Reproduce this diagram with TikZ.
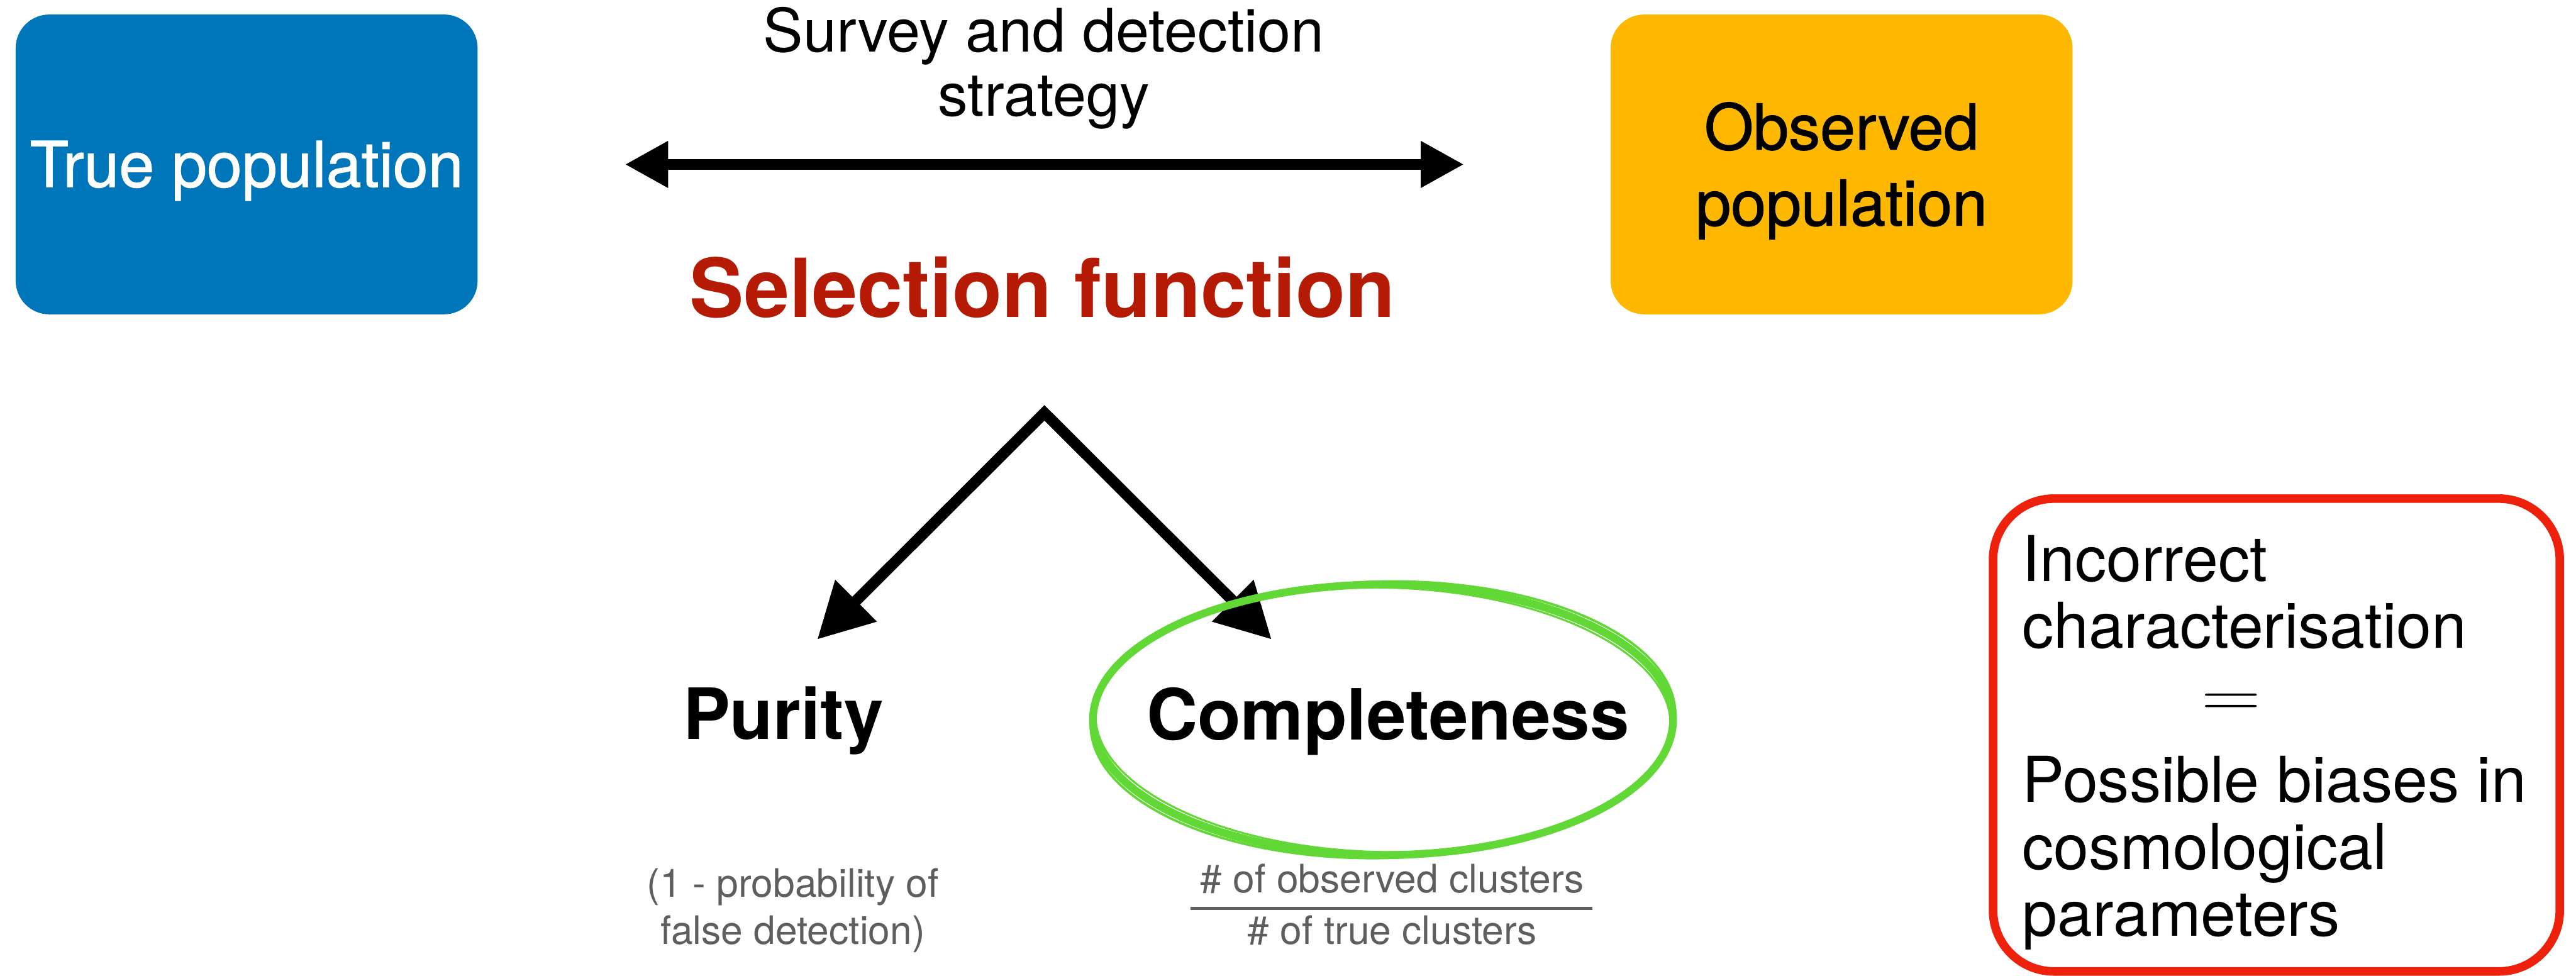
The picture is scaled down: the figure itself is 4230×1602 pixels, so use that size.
\documentclass[tikz,border=0pt]{standalone}
\usepackage{fontspec}
\setmainfont{TeX Gyre Heros}
\newfontface\boxface{TeX Gyre Heros}[FakeBold=1.2]
\usepackage{tikz}
\usetikzlibrary {arrows.meta,
                 positioning,
                 shapes.geometric}
\definecolor{truepopblue}{HTML}{0076BA}
\definecolor{obspopyellow}{HTML}{FEB800}
\definecolor{selred}{HTML}{B41A04}
\definecolor{biasred}{HTML}{EE220C}
\definecolor{brushgreen}{HTML}{61D836}
\definecolor{notegrey}{HTML}{5E5E5E}
\tikzset{
        popbox/.style={rectangle, rounded corners=5.5mm, minimum width=7.58cm,
                       minimum height=4.92cm, inner sep=0pt, align=center,
                       font=\boxface\fontsize{29.5}{35.5}\selectfont},
        plain/.style={inner sep=0pt, font=\fontsize{29.5}{31.3}\selectfont},
        heading/.style={inner sep=0pt, font=\bfseries\fontsize{33}{36}\selectfont},
        note/.style={inner sep=0pt, align=center, text=notegrey,
                     font=\fontsize{18.3}{22}\selectfont},
        strategyarrow/.style={{Triangle[length=7.1mm, width=7.2mm]}-{Triangle[length=7.1mm, width=7.2mm]},
                              line width=1.8mm},
        splitarrow/.style={{Triangle[length=9mm, width=9.2mm]}-{Triangle[length=9mm, width=9.2mm]},
                           line width=1.8mm, line join=miter},
        brush/.style={draw=brushgreen, line cap=round},
 }

\begin{document}
\begin{tikzpicture}[x=0.01cm, y=-0.01cm]
    \fill[white] (0,0) rectangle (4230,1602);
    \useasboundingbox (0,0) rectangle (4230,1602);

    \node[popbox, fill=truepopblue, text=white, text height=21pt, text depth=0pt] (truepop) at (405,270) {True population};
    \node[popbox, fill=obspopyellow] (obspop) at (3024,270) {\rule{0pt}{28pt}Observed\\population};

    \node[plain, align=center, font=\fontsize{28}{30}\selectfont] (survey) at (1714,112) {Survey and detection\\strategy};
    \draw[strategyarrow, shorten <=2.41cm, shorten >=2.4cm] (truepop) -- (obspop);

    \node[inner sep=0pt, anchor=base, text=selred, font=\bfseries\fontsize{38}{40}\selectfont] (selfunc) at (1712,521) {Selection function};

    \coordinate (split) at (1715,678);
    \coordinate (puritytip) at (1342,1050);
    \coordinate (completetip) at (2088,1050);
    \draw[splitarrow] (puritytip) -- (split) -- (completetip);

    \node[heading, anchor=base] (purity) at (1286,1214) {Purity};
    \node[heading, anchor=base] (complete) at (2279,1215) {Completeness};

    % hand drawn ring
    \draw[brush, line width=3.6pt] (2271,1182) ellipse [x radius=4.76cm, y radius=2.22cm];
    \draw[brush, line width=1.1pt, rotate around={1.2:(2271,1182)}] (2271,1182) ellipse [x radius=4.80cm, y radius=2.27cm];
    \draw[brush, line width=0.9pt, rotate around={-1.2:(2271,1182)}] (2271,1182) ellipse [x radius=4.72cm, y radius=2.17cm];

    \node[note] (puritynote) at (1302,1495) {(1 - probability of\\false detection)};

    \node[note, anchor=base] (obsclusters) at (2286,1466) {\# of observed clusters};
    \node[note, anchor=base] (trueclusters) at (2286,1551) {\# of true clusters};
    \draw[notegrey, line width=1.4pt] (1955,1492) -- (2615,1492);

    \node[draw=biasred, line width=4pt, rounded corners=1cm, minimum width=9.3cm,
          minimum height=7.76cm] (bias) at (3738,1207) {};
    \node[plain, align=left, anchor=north west] (wrongchar) at (3320,878)
        {Incorrect\\characterisation};
    \node[inner sep=0pt, font=\fontsize{34}{34}\selectfont] (equals) at (3664,1158) {\scalebox{1.55}[1.2]{$=$}};
    \node[plain, align=left, anchor=north west] (cosmobias) at (3320,1241)
        {Possible biases in\\cosmological\\parameters};
\end{tikzpicture}
\end{document}
